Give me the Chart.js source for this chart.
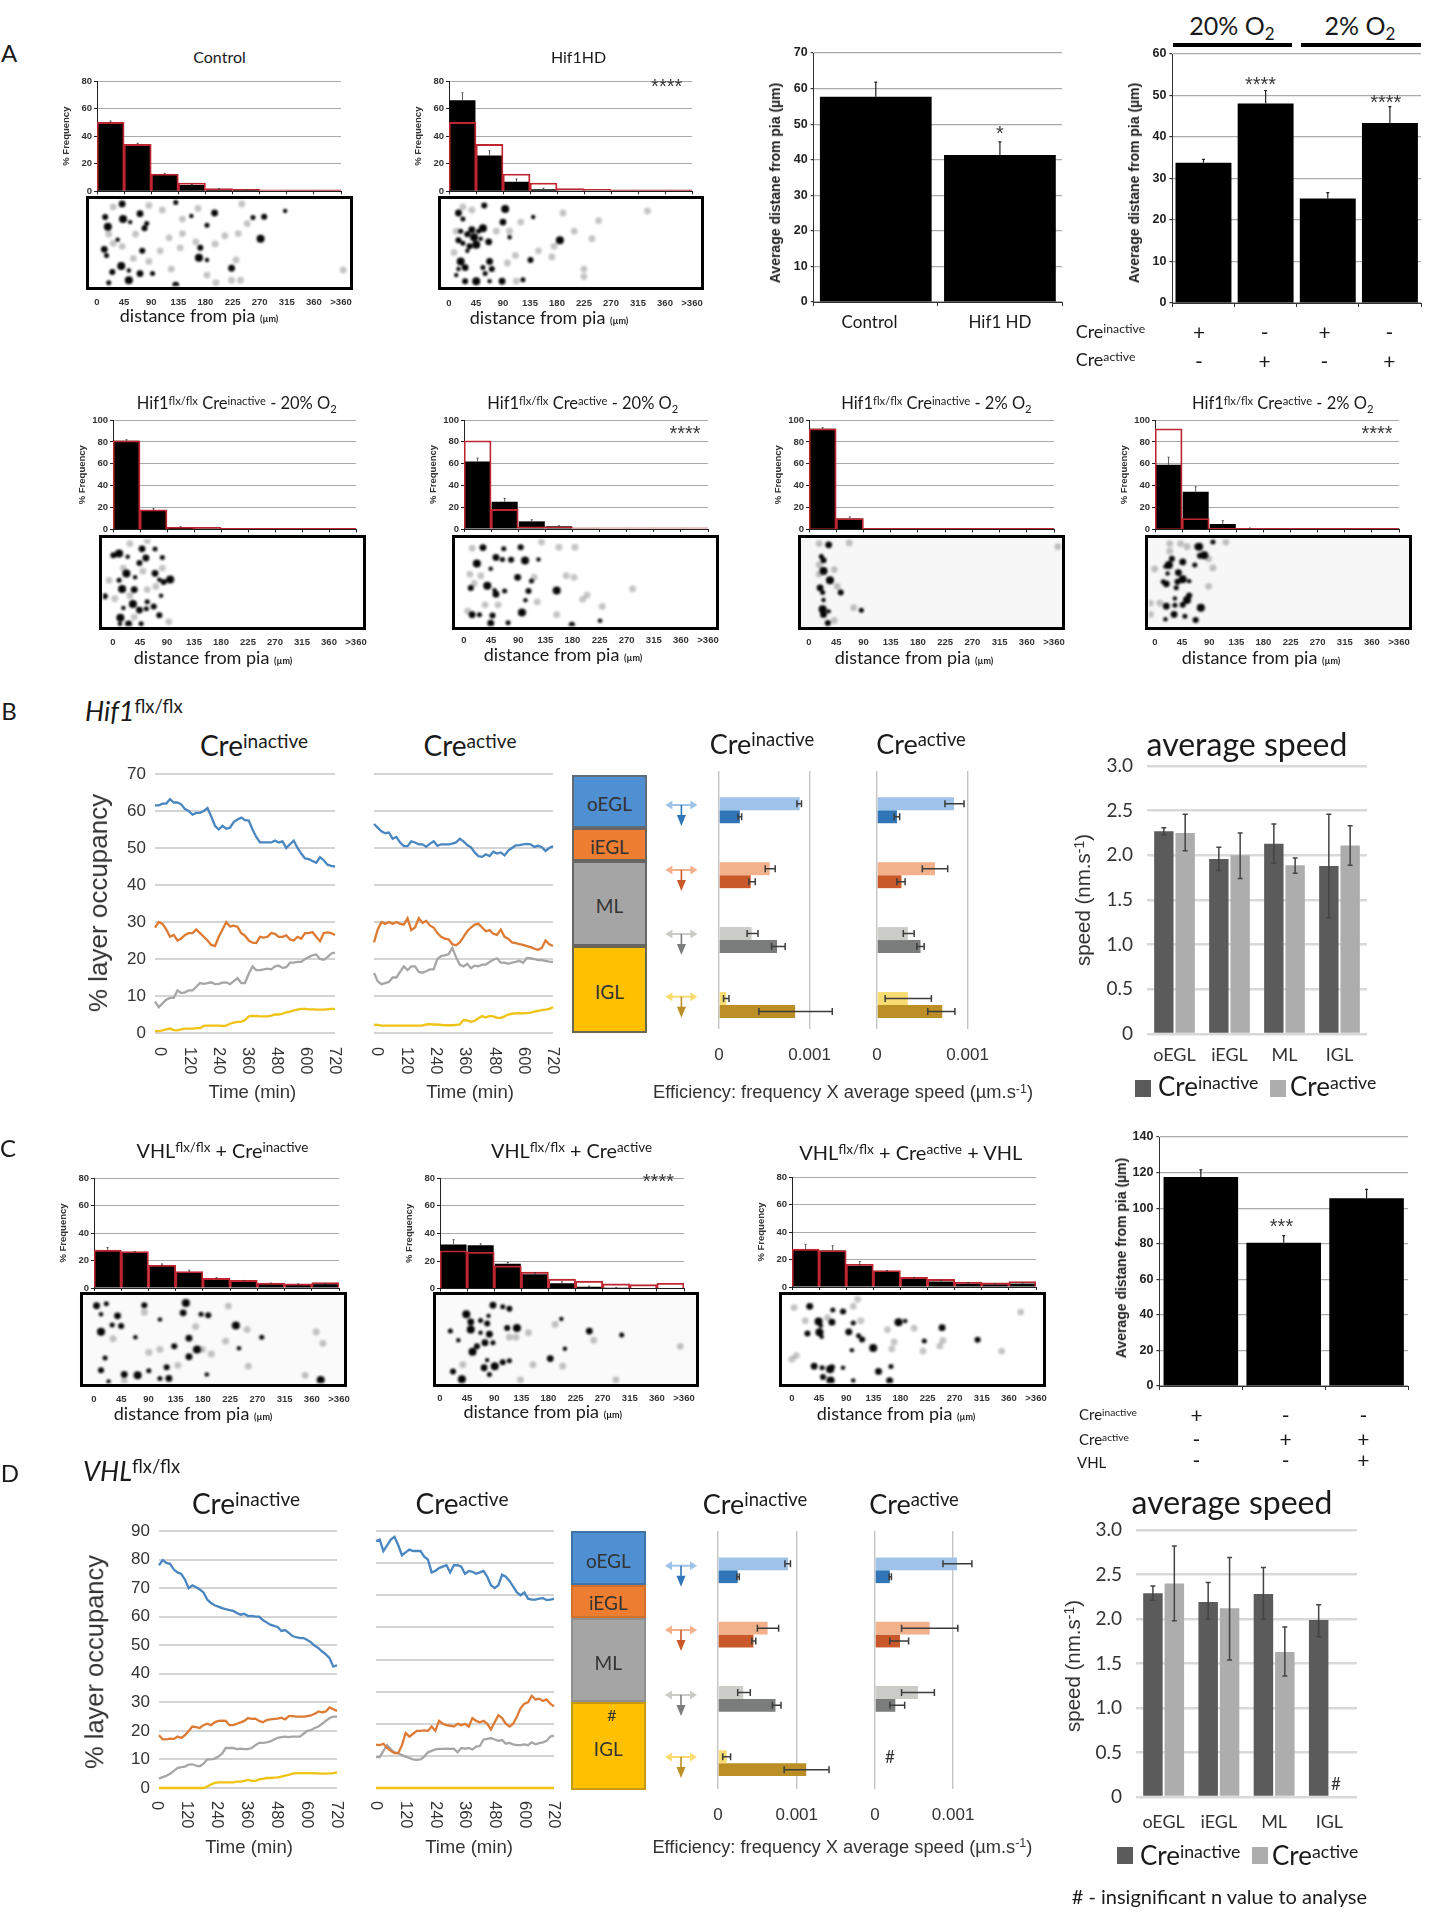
<!DOCTYPE html>
<html>
<head>
<meta charset="utf-8">
<script src="https://cdn.jsdelivr.net/npm/chart.js@4/dist/chart.umd.js"></script>
<style>
  html, body { margin: 0; background: #fff; }
  #page { position: relative; width: 1437px; height: 1920px; overflow: hidden; background: #fff; filter: blur(0.55px); }
  #page canvas { position: absolute; }
  .t { position: absolute; white-space: nowrap; line-height: 1; color: #1a1a1a; font-family: Lato, sans-serif; }
  .t sup { font-size: .68em; vertical-align: baseline; position: relative; top: -.42em; }
  .t sub { font-size: .68em; vertical-align: baseline; position: relative; top: .3em; }
  .box { position: absolute; box-sizing: border-box; }
</style>
</head>
<body>
<div id="page"></div>
<script>
// histogram bins
const distTicks = ['0', '45', '90', '135', '180', '225', '270', '315', '360', '>360'];
const refA = [50, 34, 12.5, 6, 2, 1.5, 1, 1, 1];
const controlHist = [49.5, 34, 12.5, 4.5, 1.5, 1, 0.4, 0.3, 0.3];
const controlHi = [51, 34.8, 13, 5, 1.8, 1.2, null, null, null];
const hif1HdHist = [66, 26, 7, 1.5, 0.3, 0.2, 0.1, 0.1, 0.1];
const hif1HdHi = [71.5, 29.5, 9, 2.3, null, null, null, null, null];
const ref20 = [81, 18, 2, 2, 1, 1, 1, 1, 1];
const in20Hist = [81, 17.5, 2, 0.8, 0.5, 0.5, 0.5, 0.5, 0.5];
const in20Hi = [82, 19, 2.5, null, null, null, null, null, null];
const act20Hist = [62, 25, 7, 2.5, 0.6, 0.5, 0.5, 0.5, 0.5];
const act20Hi = [65, 28, 8.5, 3, null, null, null, null, null];
const ref2 = [92, 10, 1, 1, 1, 1, 1, 1, 1];
const in2Hist = [92, 10, 0.5, 0.5, 0.5, 0.5, 0.5, 0.5, 0.5];
const in2Hi = [93, 11.5, null, null, null, null, null, null, null];
const act2Hist = [59, 34.5, 5, 1, 0.5, 0.5, 0.5, 0.5, 0.5];
const act2Hi = [66, 39, 8, 1.3, null, null, null, null, null];
const refC = [27.5, 26.5, 16.5, 12, 7, 5.5, 3.5, 3, 4];
const vhlInHist = [27.5, 26, 16, 11.5, 7, 5, 3.2, 2.7, 2.8];
const vhlInHi = [29.5, 26.5, 17.5, 13, 7.5, 5.5, 3.6, 3, 3.2];
const vhlActHist = [32, 31.5, 18, 10.5, 4, 1.5, 0.7, 0.3, 0.2];
const vhlActHi = [35.5, 32.5, 19, 11.5, 5, 2, 1, null, null];
const vhlRescueHist = [27, 26.5, 15.5, 11, 6, 4, 2.5, 2, 2.5];
const vhlRescueHi = [31, 30, 18.5, 12, 7, 5, 3.2, 2.5, 3];

// average distance bars
const a3Cats = ['Control', 'Hif1 HD'];
const a3Vals = [57.7, 41.3];
const a3Hi = [61.8, 45];
const a4Cats = ['Cre inactive 20%', 'Cre active 20%', 'Cre inactive 2%', 'Cre active 2%'];
const a4Vals = [33.8, 48.1, 25.2, 43.4];
const a4Hi = [34.6, 51.2, 26.6, 47.3];
const c4Cats = ['Cre inactive', 'Cre active', 'Cre active + VHL'];
const c4Vals = [117.5, 80.5, 105.5];
const c4Hi = [121.5, 84.5, 110.5];

// layer occupancy, one reading every 15 min
const times = [0, 15, 30, 45, 60, 75, 90, 105, 120, 135, 150, 165, 180, 195, 210, 225, 240, 255, 270, 285, 300, 315, 330, 345, 360, 375, 390, 405, 420, 435, 450, 465, 480, 495, 510, 525, 540, 555, 570, 585, 600, 615, 630, 645, 660, 675, 690, 705, 720];
const bInBlue = [61.5, 61.5, 62, 62, 63.2, 62.3, 62.3, 61.8, 60.5, 60,
  59, 59.5, 59.5, 60, 60.8, 58.5, 56, 55, 56, 55.2,
  55.5, 57, 57.7, 58.2, 57.5, 57.4, 55, 53, 51.5, 51.5,
  51.5, 51.5, 52, 51.5, 51.8, 50, 51, 52, 50, 48.5,
  47.2, 47, 46.5, 46, 47.5, 46.7, 45.5, 45.2, 45];
const bInOrange = [28.5, 30, 29.5, 28, 26, 26.5, 25, 25.5, 26.5, 27,
  27, 28, 27, 26, 25, 23.8, 23.5, 26, 28, 30,
  28.8, 29, 28.7, 27, 26.3, 25, 24.4, 24.3, 26, 25.8,
  26, 27, 26.8, 26, 26, 26.4, 25.3, 25, 26, 25.5,
  27, 27, 27.3, 26, 24.8, 27, 27.2, 27, 26.5];
const bInGray = [8.5, 7, 8, 9, 9.5, 9.5, 11.5, 10.8, 11, 11.5,
  11.5, 12.5, 13.5, 13.3, 13.5, 13.7, 13.2, 13.3, 13.6, 13.7,
  13.2, 14, 14.8, 13.5, 13.5, 16, 18, 17, 17, 17.2,
  17.4, 17.2, 18, 18.2, 17.6, 17.8, 19, 19, 19.2, 19.2,
  20, 20.5, 21, 21.2, 20, 19.8, 20.5, 21.5, 21.7];
const bInYellow = [0.5, 0.5, 0.7, 1, 1.2, 0.8, 0.7, 1, 1.2, 1.2,
  1.2, 1.3, 1.3, 1.9, 2, 2, 2, 2, 1.9, 2,
  2.5, 2.8, 3, 3, 3.5, 4.5, 4.6, 4.6, 4.5, 4.5,
  4.5, 4.7, 5, 5, 5.2, 5.6, 5.8, 6.1, 6.3, 6.5,
  6.5, 6.4, 6.4, 6.3, 6.3, 6.3, 6.4, 6.5, 6.5];
const bActBlue = [56.5, 55.5, 54.5, 54, 54.2, 52.5, 53, 51.5, 50.5, 50.5,
  51.8, 51.5, 51, 51, 50.3, 51.2, 51.8, 50.6, 51, 51,
  51, 51.2, 51.5, 52.5, 51.8, 50.8, 50.2, 48.8, 47.8, 47.6,
  48.3, 47.8, 49, 48.5, 48.8, 48, 49.3, 50, 50.7, 50.8,
  51, 51.1, 51, 50.3, 50.6, 50.2, 49.2, 50, 50.5];
const bActOrange = [24.5, 28, 30, 29.5, 30, 29.5, 30, 29.5, 29.3, 31,
  27.8, 28.5, 31, 29.8, 30.3, 29, 28.5, 27, 26, 25.5,
  25.3, 24, 23.7, 24.5, 26, 27.5, 28.5, 29.3, 29.5, 28.5,
  27.5, 27.8, 26.8, 26.5, 28, 26, 25.5, 24.5, 24.3, 24,
  23.8, 23.5, 23.2, 22.8, 22.5, 23, 25, 24, 23.5];
const bActGray = [16.2, 14, 13.2, 13.5, 13.8, 15, 15, 16.5, 18, 17,
  18, 18, 16.5, 16.3, 16.7, 17.2, 17.2, 20, 20.8, 21,
  21.3, 23, 20.5, 18.5, 18, 18.7, 17.5, 18.2, 18, 18.5,
  18.5, 19.2, 19.8, 20.2, 19, 19, 18.7, 19, 19.2, 19.5,
  19, 20.3, 20.2, 20, 19.7, 19.7, 19.5, 19.3, 19.2];
const bActYellow = [2.2, 2.2, 2, 2, 2, 2, 2, 2, 2, 2,
  2, 2, 2, 2, 2.3, 2.4, 2.3, 2.3, 2.2, 2.1,
  2.1, 2.1, 2.2, 2.3, 3.5, 3.4, 3, 3.3, 4, 4.6,
  4.2, 4.6, 4.5, 4.1, 4.1, 4.5, 5, 5.2, 5.3, 5.4,
  5.3, 5.4, 5.5, 5.8, 6, 6.2, 6.3, 6.5, 7];
const dInBlue = [78, 79.8, 78.8, 78.5, 76.5, 75.5, 75, 73, 70, 71,
  70.3, 69.5, 68.5, 66, 64.8, 64, 63.5, 63, 62.6, 62.3,
  62, 61.3, 60.7, 61, 60.2, 60.3, 60, 60, 58.8, 58,
  57.2, 56.8, 56.4, 55, 55.3, 54.3, 53.2, 52.8, 52.5, 52.5,
  51.8, 51, 49.8, 49, 47.8, 46.8, 45.5, 42.5, 43];
const dInOrange = [18.5, 17, 17, 17.3, 17.2, 18, 17.5, 18.5, 20, 21.5,
  21.3, 21, 22, 22.5, 22, 23, 23.5, 23.6, 23.5, 22,
  22, 22.5, 23, 23.5, 24.5, 24.2, 24.3, 23.5, 23, 23.8,
  24, 24.2, 24.3, 24.6, 24, 25.2, 25.2, 25, 25, 25,
  25.2, 25.4, 26, 26.8, 26.5, 26.8, 28.2, 27.6, 27];
const dInGray = [3.3, 3.8, 4.3, 5, 6, 7, 7.3, 7.5, 8.2, 8.3,
  7.8, 7.6, 8.5, 10, 10, 10.3, 11, 12, 14, 14,
  14, 13.6, 13.8, 13.6, 13.6, 14, 15, 15.8, 15.8, 16,
  16.3, 17, 17.6, 17.8, 18, 17.8, 18, 18, 18, 19,
  20, 20.3, 21, 21.5, 22.5, 23.5, 24.5, 25, 25];
const dInYellow = [0, 0, 0, 0, 0, 0, 0, 0, 0, 0,
  0, 0, 0, 0.5, 1.2, 1.8, 2, 2, 2, 2,
  2, 2.2, 2.2, 2.5, 2.8, 2.5, 2.5, 3, 3.2, 3.5,
  3.5, 3.6, 3.7, 4, 4.3, 4.6, 5, 5.2, 5.2, 5.2,
  5.2, 5.2, 5.1, 5.1, 5, 5, 5.1, 5.2, 5.5];
const dActBlue = [86.5, 87, 83, 85, 87, 88, 85, 81.5, 82.5, 83.5,
  83, 83, 83, 81, 80, 75.5, 76, 77, 77.5, 78,
  75.5, 78, 78, 77.5, 75, 76, 75.7, 75, 75.5, 76,
  74, 71, 70, 71, 74.7, 74, 72.5, 70.5, 68.5, 67.5,
  68.5, 66.3, 66, 66, 66.3, 66.5, 65.8, 66, 66.2];
const dActOrange = [15.2, 15, 15.5, 14, 13, 12.2, 12.2, 15, 19.3, 18,
  19, 20, 20, 20.2, 20, 21.5, 20, 23.5, 22.5, 22,
  21.8, 21.5, 22.5, 22, 22.5, 21.5, 24.5, 23.5, 23, 23.5,
  22.5, 20.5, 23, 25.5, 24.5, 22.5, 21.5, 22.5, 25, 28,
  29.5, 30, 32.3, 31, 31.3, 30.5, 31, 29.5, 28.6];
const dActGray = [10.8, 10.8, 13, 15, 13.5, 12.5, 12.2, 11.5, 11, 10.5,
  10, 9.9, 10, 11, 12.5, 13, 13.5, 13.7, 13.7, 13.8,
  13.7, 13.8, 12.5, 14, 13.8, 14, 13.5, 14.5, 14.7, 17,
  17.2, 17.5, 17, 16.5, 16.8, 15.5, 15.8, 15.3, 15, 15,
  15.3, 15, 16, 15.3, 15.7, 16, 16.5, 18, 18.3];
const dActYellow = [0, 0, 0, 0, 0, 0, 0, 0, 0, 0,
  0, 0, 0, 0, 0, 0, 0, 0, 0, 0,
  0, 0, 0, 0, 0, 0, 0, 0, 0, 0,
  0, 0, 0, 0, 0, 0, 0, 0, 0, 0,
  0, 0, 0, 0, 0, 0, 0, 0, 0];

// efficiency: lateral (light) and radial (dark), order oEGL iEGL ML IGL
const effBInLight = [0.00089, 0.00056, 0.00036, 0.00008];
const effBInLightLo = [0.00086, 0.00051, 0.00031, 0.00005];
const effBInLightHi = [0.00091, 0.00062, 0.00043, 0.00011];
const effBInDark = [0.00023, 0.00035, 0.00064, 0.00084];
const effBInDarkLo = [0.00021, 0.00033, 0.00058, 0.00044];
const effBInDarkHi = [0.00025, 0.0004, 0.00073, 0.00125];
const effBActLight = [0.00085, 0.00064, 0.00034, 0.00034];
const effBActLightLo = [0.00075, 0.0005, 0.00029, 0.00009];
const effBActLightHi = [0.00096, 0.00078, 0.00041, 0.0006];
const effBActDark = [0.00022, 0.00027, 0.00048, 0.00072];
const effBActDarkLo = [0.00019, 0.00022, 0.00044, 0.00056];
const effBActDarkHi = [0.00025, 0.00031, 0.00052, 0.00086];
const effDInLight = [0.00089, 0.00063, 0.00032, 0.00011];
const effDInLightLo = [0.00085, 0.0005, 0.00025, 0.00006];
const effDInLightHi = [0.00092, 0.00077, 0.00041, 0.00016];
const effDInDark = [0.00025, 0.00045, 0.00073, 0.00112];
const effDInDarkLo = [0.00024, 0.00043, 0.00069, 0.00084];
const effDInDarkHi = [0.00027, 0.00048, 0.0008, 0.00141];
const effDActLight = [0.00105, 0.0007, 0.00055, null];
const effDActLightLo = [0.00087, 0.00034, 0.00034, null];
const effDActLightHi = [0.00124, 0.00106, 0.00076, null];
const effDActDark = [0.00019, 0.00032, 0.00026, null];
const effDActDarkLo = [0.00018, 0.00019, 0.00019, null];
const effDActDarkHi = [0.00021, 0.00043, 0.00038, null];

// average speed
const layers = ['oEGL', 'iEGL', 'ML', 'IGL'];
const speedBIn = [2.27, 1.96, 2.13, 1.88];
const speedBInLo = [2.23, 1.83, 1.91, 1.3];
const speedBInHi = [2.31, 2.09, 2.35, 2.46];
const speedBAct = [2.25, 2.0, 1.89, 2.11];
const speedBActLo = [2.05, 1.74, 1.8, 1.89];
const speedBActHi = [2.46, 2.25, 1.97, 2.33];
const speedDIn = [2.29, 2.19, 2.28, 1.99];
const speedDInLo = [2.21, 2.0, 2.0, 1.8];
const speedDInHi = [2.37, 2.41, 2.58, 2.16];
const speedDAct = [2.4, 2.12, 1.63, null];
const speedDActLo = [1.98, 1.54, 1.36, null];
const speedDActHi = [2.82, 2.69, 1.91, null];

// cell positions in the strips, dark and faint nuclei
const a1Dark = [[260,510],[380,505],[222,553],[262,560],[278,570],[300,542],[315,575],[310,590],[228,585],[250,628],[220,660],[225,680],[305,665],[258,715],[275,730],[300,740],[328,740],[238,735],[275,762],[415,550],[467,540],[450,580],[435,655],[432,688],[450,695],[505,722],[553,555],[578,552],[570,625],[625,533],[380,778],[230,770]];
const a1Faint = [[240,520],[320,515],[350,530],[430,525],[528,510],[395,560],[540,575],[395,608],[520,608],[490,615],[365,622],[345,665],[390,655],[468,642],[425,635],[370,725],[450,745],[525,762],[505,762],[515,695],[755,728],[240,640],[260,650],[285,690],[320,700],[290,610],[470,770],[230,610]];
const a2Dark = [[990,540],[1000,560],[1048,515],[1095,527],[1158,553],[1090,570],[995,600],[1010,610],[1025,620],[1040,625],[1058,635],[1000,640],[1015,650],[1030,645],[1010,665],[1060,700],[1045,720],[1065,725],[995,700],[990,725],[1005,720],[1050,740],[1005,765],[1030,765],[1060,765],[1088,765],[1135,760],[1152,695],[1218,630],[985,745],[1020,595],[1035,600],[990,630],[1045,590],[1105,620]];
const a2Faint = [[1000,520],[1020,530],[1130,570],[1105,600],[1205,650],[1290,625],[1170,665],[1100,705],[1272,725],[1272,750],[1120,765],[1415,533],[1305,565],[1225,540],[1118,680],[985,600],[980,670],[1075,600],[1200,685],[1250,600]];
const h1Dark = [[178,497],[208,498],[112,518],[125,512],[145,523],[187,527],[225,525],[172,543],[142,578],[162,590],[208,577],[125,600],[228,605],[243,597],[218,598],[160,630],[190,670],[205,685],[157,677],[135,690],[172,697],[188,693],[218,714],[128,722],[127,742],[147,742],[176,742],[92,652],[132,628],[222,650]];
const h1Faint = [[150,480],[190,470],[225,560],[102,600],[180,570],[135,560],[190,630],[115,660],[240,735],[160,720],[210,620],[150,650]];
const h2Dark = [[940,493],[988,497],[1027,492],[926,545],[958,562],[970,525],[985,532],[1005,533],[1037,535],[1068,532],[1020,590],[1052,602],[912,625],[950,618],[967,632],[970,645],[990,635],[1045,635],[1110,633],[1038,665],[915,712],[932,712],[962,715],[1030,705],[1210,732],[958,740],[998,738],[1145,745]];
const h2Faint = [[915,495],[1075,475],[1115,492],[1152,492],[910,580],[920,610],[935,585],[1058,590],[1132,585],[1150,590],[1180,648],[1170,662],[1215,685],[1110,712],[905,700],[945,680],[975,680],[1285,628],[1065,670]];
const h3Dark = [[192,484],[175,522],[180,535],[180,570],[195,602],[172,625],[178,640],[220,640],[178,695],[192,702],[180,712],[268,698],[190,740],[195,600],[180,665]];
const h3Faint = [[170,480],[240,478],[205,565],[170,580],[250,690],[205,732],[212,620],[170,550],[725,490]];
const h4Dark = [[1025,490],[1060,475],[965,530],[958,550],[950,555],[990,540],[1018,550],[1030,520],[1040,518],[955,578],[980,575],[945,605],[978,605],[990,597],[1005,603],[952,612],[975,625],[1005,650],[1000,665],[972,660],[952,685],[972,682],[990,680],[1032,690],[950,728],[970,712],[995,718],[1020,730],[1028,490]];
const h4Faint = [[960,480],[985,480],[1090,475],[925,563],[1050,530],[1060,560],[915,675],[915,712],[937,675],[960,505],[1000,490],[1050,620]];
const c1Dark = [[203,547],[225,540],[310,545],[403,538],[213,575],[250,580],[238,610],[258,613],[213,632],[345,592],[397,570],[437,575],[453,578],[515,612],[290,650],[410,653],[573,650],[377,680],[428,690],[522,686],[410,714],[222,718],[213,758],[295,775],[450,772],[265,772],[320,760],[360,748],[705,790],[230,795],[365,785],[345,785]];
const c1Faint = [[498,548],[310,568],[540,625],[492,663],[345,690],[460,705],[440,690],[695,633],[543,745],[385,742],[710,670],[670,775],[265,795],[240,655],[320,700],[425,615]];
const c2Dark = [[1068,545],[1090,550],[1105,557],[1008,575],[1058,580],[1018,600],[1040,595],[1055,605],[1018,625],[1040,635],[1060,640],[972,630],[1100,620],[1122,620],[990,660],[1050,668],[1068,668],[1032,680],[1022,698],[1230,688],[1197,720],[1105,727],[1090,732],[1072,745],[1055,725],[1048,750],[1060,772],[978,762],[998,788],[1222,590],[1285,630],[1358,643]];
const c2Faint = [[1208,608],[1148,635],[1105,650],[1120,650],[1158,740],[1225,745],[1000,740],[1345,790],[1130,790],[1295,660],[1490,680]];
const c3Dark = [[190,548],[242,560],[265,565],[210,598],[215,612],[240,600],[288,603],[185,637],[212,633],[217,648],[278,632],[300,645],[308,657],[390,600],[405,596],[488,618],[448,662],[568,658],[333,685],[285,692],[200,745],[218,750],[240,748],[236,755],[265,750],[345,762],[373,746],[220,780],[237,792],[288,792],[370,792]];
const c3Faint = [[155,552],[298,525],[288,548],[180,595],[230,585],[305,595],[425,620],[365,625],[380,665],[490,660],[483,678],[375,688],[622,695],[160,710],[150,722],[665,567],[445,695]];

const page = document.getElementById('page');
const SANS = '"Liberation Sans", Arial, sans-serif';
const RED = '#bf2530';

// error whiskers, read from dataset.errLo / dataset.errHi
const whiskers = {
  id: 'whiskers',
  afterDatasetsDraw(chart) {
    const ctx = chart.ctx;
    const horiz = chart.options.indexAxis === 'y';
    chart.data.datasets.forEach((ds, di) => {
      if (!ds.errHi) return;
      const meta = chart.getDatasetMeta(di);
      const vScale = horiz ? chart.scales.x : chart.scales.y;
      const cap = ds.errCap || 2;
      ctx.save();
      ctx.strokeStyle = ds.errColor || '#000';
      ctx.lineWidth = ds.errWidth || 1;
      meta.data.forEach((el, i) => {
        const hi = ds.errHi[i];
        if (hi == null) return;
        const lo = ds.errLo ? ds.errLo[i] : meta.controller.getParsed(i)[vScale.axis];
        const a = vScale.getPixelForValue(lo), b = vScale.getPixelForValue(hi);
        const c = horiz ? el.y : el.x;
        ctx.beginPath();
        if (horiz) {
          ctx.moveTo(a, c); ctx.lineTo(b, c);
          ctx.moveTo(b, c - cap); ctx.lineTo(b, c + cap);
          if (ds.errLo) { ctx.moveTo(a, c - cap); ctx.lineTo(a, c + cap); }
        } else {
          ctx.moveTo(c, a); ctx.lineTo(c, b);
          ctx.moveTo(c - cap, b); ctx.lineTo(c + cap, b);
          if (ds.errLo) { ctx.moveTo(c - cap, a); ctx.lineTo(c + cap, a); }
        }
        ctx.stroke();
      });
      ctx.restore();
    });
  }
};

// time labels read top to bottom, Chart.js only anchors them the other way
const sideTicks = {
  id: 'sideTicks',
  afterDraw(chart, args, opts) {
    if (!opts.top) return;
    const s = chart.scales.x, ctx = chart.ctx;
    ctx.save();
    ctx.font = '16.5px ' + SANS;
    ctx.fillStyle = '#333';
    ctx.textBaseline = 'middle';
    s.ticks.forEach(t => {
      ctx.save();
      ctx.translate(s.getPixelForValue(t.value) + opts.shift * (720 - t.value) / 720, s.top + opts.top);
      ctx.rotate(Math.PI / 2);
      ctx.fillText(String(t.value), 0, 0);
      ctx.restore();
    });
    ctx.restore();
  }
};

Chart.register(whiskers, sideTicks);
Chart.defaults.animation = false;
Chart.defaults.responsive = false;
Chart.defaults.plugins.legend.display = false;
Chart.defaults.plugins.tooltip.enabled = false;

function txt(x, y, html, size, opts = {}) {
  const d = document.createElement('div');
  d.className = 't';
  d.innerHTML = html;
  d.style.left = x + 'px';
  d.style.top = y + 'px';
  d.style.fontSize = size + 'px';
  if (opts.font) d.style.fontFamily = opts.font;
  if (opts.color) d.style.color = opts.color;
  if (opts.italic) d.style.fontStyle = 'italic';
  if (opts.weight) d.style.fontWeight = opts.weight;
  const ax = opts.left ? '0' : '-50%';
  d.style.transform = 'translate(' + ax + ',-50%)' + (opts.rot ? ' rotate(' + opts.rot + 'deg)' : '');
  page.appendChild(d);
}

// asterisks sit high in the em box, so nudge them onto the read-off centre
function stars(x, y, s) {
  txt(x, y + 4.5, s, 20, { font: SANS, color: '#3a3a3a' });
}

function makeCanvas(x, y, w, h) {
  const c = document.createElement('canvas');
  c.width = w; c.height = h;
  c.style.left = x + 'px';
  c.style.top = y + 'px';
  c.style.width = w + 'px';
  c.style.height = h + 'px';
  page.appendChild(c);
  return c.getContext('2d');
}

// pins the axis band so that the plot area lands on the wanted pixels
function pin(size, horizontal) {
  return s => {
    if (horizontal) s.height = size; else s.width = size;
    s.paddingLeft = s.paddingRight = s.paddingTop = s.paddingBottom = 0;
  };
}

function hist(p, vals, hi, ref, dark, faint, star) {
  const ml = 36, mr = 24, mt = 8, mb = p.tickY - p.B + 10;
  const w = Math.round(p.R - p.L + ml + mr), h = Math.round(p.B - p.T + mt + mb);
  const max = p.max || 80, step = p.step || 10;
  const datasets = [{
    data: vals.map((v, i) => ({ x: i + 0.5, y: v })),
    backgroundColor: '#000', barPercentage: 0.96, categoryPercentage: 1, grouped: false, order: 2,
    errHi: hi, errColor: '#333', errWidth: 0.8, errCap: 1
  }];
  if (ref) datasets.unshift({
    data: ref.map((v, i) => ({ x: i + 0.5, y: v })),
    backgroundColor: 'rgba(0,0,0,0)', borderColor: RED, borderWidth: 1.2,
    barPercentage: 1, categoryPercentage: 1, grouped: false, order: 1
  });
  new Chart(makeCanvas(p.L - ml, p.T - mt, w, h), {
    type: 'bar',
    data: { datasets },
    options: {
      layout: { padding: { top: mt, right: mr } },
      scales: {
        x: {
          type: 'linear', min: 0, max: 9, offset: false, afterFit: pin(mb, true),
          grid: { drawOnChartArea: false, offset: false, color: '#222', tickLength: 3 },
          border: { color: '#222' },
          ticks: {
            stepSize: 1, autoSkip: false, maxRotation: 0, padding: p.tickY - 5 - p.B - 3,
            font: { family: SANS, size: 9.5, weight: 'bold' }, color: '#333',
            callback: v => distTicks[v]
          }
        },
        y: {
          min: 0, max, afterFit: pin(ml),
          grid: { color: '#aaa', tickColor: '#222', tickLength: 3 },
          border: { color: '#222' },
          title: { display: true, text: '% Frequency', padding: 0, color: '#333', font: { family: SANS, size: 9.5, weight: 'bold' } },
          ticks: {
            stepSize: step, padding: 2, color: '#333', font: { family: SANS, size: 9.5, weight: 'bold' },
            callback: v => (v % 20 === 0 ? v : '')
          }
        }
      }
    }
  });
  // strip under the histogram
  const [x1, x2, y1, y2, sx1, sx2, sy1, sy2] = p.frame;
  const stripCtx = makeCanvas(x1, y1, x2 - x1, y2 - y1);
  stripCtx.canvas.style.filter = 'blur(0.8px)';
  if (p.haze) stripCtx.canvas.style.background = p.haze;
  new Chart(stripCtx, {
    type: 'scatter',
    data: { datasets: [
      { data: faint.map(d => ({ x: d[0], y: d[1] })), backgroundColor: 'rgba(60,60,60,0.3)', pointRadius: 3.4, pointBorderWidth: 0 },
      { data: dark.map(d => ({ x: d[0], y: d[1] })), backgroundColor: '#060606', pointBorderWidth: 0,
        pointRadius: c => [3.4, 2.5, 3, 4, 2.2][c.dataIndex % 5] }
    ] },
    options: {
      layout: { padding: 0 },
      scales: {
        x: { display: false, min: sx1, max: sx2 },
        y: { display: false, min: sy1, max: sy2, reverse: true }
      }
    }
  });
  const f = document.createElement('div');
  f.className = 'box';
  f.style.cssText = 'left:' + x1 + 'px;top:' + y1 + 'px;width:' + (x2 - x1) + 'px;height:' + (y2 - y1) + 'px;border:3.5px solid #000';
  page.appendChild(f);
  if (star) stars(star[0], star[1], '****');
}

function bigBars(p, cats, vals, hi) {
  const ml = p.L - p.titleX + 8, mr = 6, mt = 8, mb = 10;
  new Chart(makeCanvas(p.L - ml, p.T - mt, Math.round(p.R - p.L + ml + mr), Math.round(p.B - p.T + mt + mb)), {
    type: 'bar',
    data: { labels: cats, datasets: [{
      data: vals, backgroundColor: '#000', barPercentage: 0.9, categoryPercentage: 1,
      errHi: hi, errColor: '#222', errWidth: 1.2, errCap: 1.5
    }] },
    options: {
      layout: { padding: { top: mt, right: mr } },
      scales: {
        x: {
          afterFit: pin(mb, true),
          ticks: { display: false },
          grid: { drawOnChartArea: false, color: '#333', tickLength: 4 },
          border: { color: '#333' }
        },
        y: {
          min: 0, max: p.max, afterFit: pin(ml),
          grid: { color: '#aaa', lineWidth: 1.2, tickColor: '#333', tickLength: 3 },
          border: { color: '#333' },
          ticks: { stepSize: p.step, padding: 3, color: '#222', font: { family: SANS, size: 12.5, weight: 'bold' } }
        }
      }
    }
  });
  txt(p.titleX, p.titleY, 'Average distane from pia (µm)', 14, { font: SANS, weight: 'bold', rot: -90, color: '#222' });
}

function occupancy(p, blue, orange, gray, yellow) {
  const ml = p.labels ? 70 : 6, mr = 12, mt = 8, mb = 60;
  const series = [[blue, '#4a86c0'], [orange, '#dd7b35'], [gray, '#a6a6a6'], [yellow, '#eec313']];
  new Chart(makeCanvas(p.L - ml, p.T - mt, Math.round(p.R - p.L + ml + mr), Math.round(p.B - p.T + mt + mb)), {
    type: 'line',
    data: { datasets: series.map(([vals, color]) => ({
      data: vals.map((v, i) => ({ x: times[i], y: v })),
      borderColor: color, borderWidth: 2.3, pointRadius: 0, tension: 0, clip: false
    })) },
    options: {
      layout: { padding: { top: mt, right: mr } },
      plugins: { sideTicks: { top: p.tickTop, shift: p.shift } },
      scales: {
        x: {
          type: 'linear', min: 0, max: 720, afterFit: pin(mb, true),
          grid: { display: false }, border: { display: false },
          ticks: { display: false, stepSize: 120 }
        },
        y: {
          min: 0, max: p.max, afterFit: pin(ml),
          grid: { color: '#d4d4d4', lineWidth: 2, drawTicks: false },
          border: { display: false },
          ticks: { display: !!p.labels, stepSize: p.step, padding: 9, color: '#333', font: { family: SANS, size: 17 } }
        }
      }
    }
  });
}

const lightCols = ['#9fc3e8', '#f2b18a', '#cbcbc7', '#f8dc72'];
const darkCols = ['#2f75b8', '#c9592a', '#7b7d7d', '#bb8e26'];

function efficiency(p, light, lightLo, lightHi, dark, darkLo, darkHi) {
  const ml = 6, mr = 6, mt = 2, mb = 36;
  const span = 0.0016;
  const pxPer = (p.X1 - p.X0) / 0.001;
  const toPts = arr => arr.map((v, i) => ({ x: v, y: i }));
  const errStyle = { errColor: '#3c3c3c', errWidth: 1.5, errCap: 3.5 };
  new Chart(makeCanvas(p.X0 - ml, p.T - mt, Math.round(span * pxPer + ml + mr), Math.round(p.B - p.T + mt + mb)), {
    type: 'bar',
    data: { datasets: [
      Object.assign({ data: toPts(light), backgroundColor: lightCols, barPercentage: 1, categoryPercentage: 0.4, errLo: lightLo, errHi: lightHi }, errStyle),
      Object.assign({ data: toPts(dark), backgroundColor: darkCols, barPercentage: 1, categoryPercentage: 0.4, errLo: darkLo, errHi: darkHi }, errStyle)
    ] },
    options: {
      indexAxis: 'y',
      layout: { padding: { top: mt, right: mr } },
      scales: {
        x: {
          type: 'linear', min: 0, max: span, afterFit: pin(mb, true),
          grid: { color: '#c4c4c4', lineWidth: 1.4, drawTicks: false },
          border: { display: false },
          ticks: {
            stepSize: 0.001, includeBounds: false, maxRotation: 0, padding: 16, color: '#333',
            font: { family: SANS, size: 17 }, callback: v => (v === 0 ? '0' : '0.001')
          }
        },
        y: {
          type: 'linear', reverse: true, offset: false, afterFit: pin(ml),
          min: -(p.C0 - p.T) / p.gap, max: (p.B - p.C0) / p.gap,
          grid: { display: false, offset: false }, border: { display: false },
          ticks: { display: false, stepSize: 1, includeBounds: false }
        }
      }
    }
  });
}

function speed(p, inVals, inLo, inHi, actVals, actLo, actHi) {
  const ml = 50, mr = 6, mt = 8, mb = 46;
  const errStyle = { errColor: '#444', errWidth: 1.5, errCap: 2.5 };
  new Chart(makeCanvas(p.L - ml, p.T - mt, Math.round(p.R - p.L + ml + mr), Math.round(p.B - p.T + mt + mb)), {
    type: 'bar',
    data: { labels: layers, datasets: [
      Object.assign({ data: inVals, backgroundColor: '#5b5b5b', barPercentage: 0.91, categoryPercentage: 0.775, errLo: inLo, errHi: inHi }, errStyle),
      Object.assign({ data: actVals, backgroundColor: '#adadad', barPercentage: 0.91, categoryPercentage: 0.775, errLo: actLo, errHi: actHi }, errStyle)
    ] },
    options: {
      layout: { padding: { top: mt, right: mr } },
      scales: {
        x: {
          afterFit: pin(mb, true),
          grid: { display: false }, border: { display: false },
          ticks: { padding: p.catPad, color: '#333', font: { family: 'Lato', size: 18 } }
        },
        y: {
          min: 0, max: 3, afterFit: pin(ml),
          grid: { color: '#d9d9d9', lineWidth: 2.4, drawTicks: false },
          border: { display: false },
          ticks: { stepSize: 0.5, padding: 14, color: '#333', font: { family: 'Lato', size: 19 }, callback: v => (v === 0 ? '0' : v.toFixed(1)) }
        }
      }
    }
  });
}

// layer column with the arrows next to it
function layerColumn(x1, x2, ys, labelYs, borders) {
  const fills = ['#4e90d2', '#ed7d31', '#a5a5a5', '#ffc000'];
  fills.forEach((c, i) => {
    const b = document.createElement('div');
    b.className = 'box';
    b.style.cssText = 'left:' + x1 + 'px;top:' + ys[i] + 'px;width:' + (x2 - x1) + 'px;height:' + (ys[i + 1] - ys[i]) + 'px;background:' + c + ';border:2.5px solid ' + borders[i];
    page.appendChild(b);
    txt((x1 + x2) / 2, labelYs[i], layers[i], 19, { color: '#333' });
  });
}

function arrows(x, ys) {
  const ns = 'http://www.w3.org/2000/svg';
  const svg = document.createElementNS(ns, 'svg');
  svg.setAttribute('width', 1437);
  svg.setAttribute('height', 1920);
  svg.style.cssText = 'position:absolute;left:0;top:0';
  const add = (tag, attrs) => {
    const el = document.createElementNS(ns, tag);
    Object.keys(attrs).forEach(k => el.setAttribute(k, attrs[k]));
    svg.appendChild(el);
  };
  ys.forEach((y, i) => {
    const l = lightCols[i], d = darkCols[i];
    add('line', { x1: x - 12, y1: y, x2: x + 12, y2: y, stroke: l, 'stroke-width': 2 });
    add('polygon', { points: (x - 16) + ',' + y + ' ' + (x - 9) + ',' + (y - 4.5) + ' ' + (x - 9) + ',' + (y + 4.5), fill: l });
    add('polygon', { points: (x + 16) + ',' + y + ' ' + (x + 9) + ',' + (y - 4.5) + ' ' + (x + 9) + ',' + (y + 4.5), fill: l });
    add('line', { x1: x, y1: y, x2: x, y2: y + 14, stroke: d, 'stroke-width': 1.6 });
    add('polygon', { points: x + ',' + (y + 21) + ' ' + (x - 4.5) + ',' + (y + 10) + ' ' + (x + 4.5) + ',' + (y + 10), fill: d });
  });
  page.appendChild(svg);
}

const CRE_IN = 'Cre<sup>inactive</sup>';
const CRE_ACT = 'Cre<sup>active</sup>';
const PIA = 'distance from pia <span style="font-size:.5em;font-weight:700">(µm)</span>';

// Panel A
txt(9, 53, 'A', 24, { font: 'Lato' });
hist({ L: 97, R: 341, T: 80.7, B: 191.3, tickY: 302, frame: [86, 353, 196, 290, 188, 768, 497, 781] }, controlHist, controlHi, refA, a1Dark, a1Faint);
hist({ L: 449, R: 692.4, T: 80.7, B: 191.3, tickY: 303, frame: [437.5, 704, 196, 290, 953, 1533, 497, 781] }, hif1HdHist, hif1HdHi, refA, a2Dark, a2Faint, [666.7, 81.7]);
txt(219.5, 57.3, 'Control', 16);
txt(578.5, 57.3, 'Hif1HD', 16);
txt(199, 315, PIA, 18);
txt(549, 317, PIA, 18);

bigBars({ L: 813.7, R: 1062, T: 53, B: 302, titleX: 775, titleY: 182.5, max: 70, step: 10 }, a3Cats, a3Vals, a3Hi);
txt(869.5, 320.7, 'Control', 17);
txt(1000, 320.7, 'Hif1 HD', 17);
stars(999.8, 128, '*');

bigBars({ L: 1172.2, R: 1420.5, T: 54, B: 302.7, titleX: 1133.8, titleY: 182.5, max: 60, step: 10 }, a4Cats, a4Vals, a4Hi);
txt(1232, 25, '20% O<sub>2</sub>', 25);
txt(1360, 25, '2% O<sub>2</sub>', 25);
[[1172.7, 1292], [1301, 1420.5]].forEach(([a, b]) => {
  const bar = document.createElement('div');
  bar.className = 'box';
  bar.style.cssText = 'left:' + a + 'px;top:42.5px;width:' + (b - a) + 'px;height:4px;background:#000';
  page.appendChild(bar);
});
stars(1260.5, 79.3, '****');
stars(1385.8, 97.3, '****');
txt(1075.7, 331, CRE_IN, 18, { left: true });
txt(1075.7, 359, CRE_ACT, 18, { left: true });
[['+', 1199, 331], ['-', 1264.6, 331], ['+', 1324.5, 331], ['-', 1389.4, 331],
 ['-', 1199, 360], ['+', 1264.6, 360], ['-', 1324.5, 360], ['+', 1389.4, 360]].forEach(([s, x, y]) => txt(x, y, s, 21));

// second row of A, y to 100
const row2 = { T: 420.3, B: 529.7, max: 100, step: 20 };
const HAZE = '#f7f7f7';
hist(Object.assign({ L: 112.7, R: 356, tickY: 642.3, frame: [99.3, 366, 535, 630, 88, 686, 465, 749] }, row2), in20Hist, in20Hi, ref20, h1Dark, h1Faint);
hist(Object.assign({ L: 463.6, R: 708, tickY: 640.7, frame: [452, 718.5, 535, 630, 878, 1475, 465, 749] }, row2), act20Hist, act20Hi, ref20, h2Dark, h2Faint, [685, 428.3]);
hist(Object.assign({ L: 809.3, R: 1053.8, tickY: 642.3, haze: HAZE, frame: [797.8, 1065, 535, 630, 130, 732, 465, 750] }, row2), in2Hist, in2Hi, ref2, h3Dark, h3Faint);
hist(Object.assign({ L: 1154.7, R: 1398.7, tickY: 642.3, haze: HAZE, frame: [1145.3, 1412, 535, 630, 912, 1512, 465, 750] }, row2), act2Hist, act2Hi, ref2, h4Dark, h4Faint, [1377, 428.3]);
txt(236.8, 403.3, 'Hif1<sup>flx/flx</sup> ' + CRE_IN + ' - 20% O<sub>2</sub>', 16.5);
txt(582.8, 403.3, 'Hif1<sup>flx/flx</sup> ' + CRE_ACT + ' - 20% O<sub>2</sub>', 16.5);
txt(936.4, 403.3, 'Hif1<sup>flx/flx</sup> ' + CRE_IN + ' - 2% O<sub>2</sub>', 16.5);
txt(1282.7, 403.3, 'Hif1<sup>flx/flx</sup> ' + CRE_ACT + ' - 2% O<sub>2</sub>', 16.5);
txt(213, 656.7, PIA, 18);
txt(563, 654.3, PIA, 18);
txt(914, 656.7, PIA, 18);
txt(1261, 656.7, PIA, 18);

// Panel B
txt(9, 710.7, 'B', 24);
txt(85, 710, 'Hif1<sup style="font-style:normal">flx/flx</sup>', 27, { left: true, italic: true });
txt(254, 745, CRE_IN, 28);
txt(470, 745, CRE_ACT, 28);
occupancy({ L: 155, R: 335.3, T: 773.7, B: 1032.3, max: 70, step: 10, labels: true, tickTop: 14, shift: 5 }, bInBlue, bInOrange, bInGray, bInYellow);
occupancy({ L: 373.7, R: 552.8, T: 773.7, B: 1032.3, max: 70, step: 10, tickTop: 14, shift: 3 }, bActBlue, bActOrange, bActGray, bActYellow);
txt(97.7, 903, '% layer occupancy', 26, { font: SANS, rot: -90, color: '#333' });
txt(252.3, 1092, 'Time (min)', 18.5, { font: SANS, color: '#333' });
txt(470, 1092, 'Time (min)', 18.5, { font: SANS, color: '#333' });
layerColumn(572.3, 646.7, [775, 828.3, 860.7, 946, 1032.7], [803, 846, 905, 991], ['#5f6b76', '#6a6460', '#666', '#6b6650']);
arrows(681.4, [805, 870, 934, 996.7]);
efficiency({ X0: 718.8, X1: 809.4, T: 770.7, B: 1029, C0: 810, gap: 65 }, effBInLight, effBInLightLo, effBInLightHi, effBInDark, effBInDarkLo, effBInDarkHi);
efficiency({ X0: 877, X1: 967.7, T: 770.7, B: 1029, C0: 810, gap: 65 }, effBActLight, effBActLightLo, effBActLightHi, effBActDark, effBActDarkLo, effBActDarkHi);
txt(762, 743, CRE_IN, 27);
txt(921, 743, CRE_ACT, 27);
txt(843, 1092, 'Efficiency: frequency X average speed (µm.s<sup>-1</sup>)', 18.3, { font: SANS, color: '#333' });
speed({ L: 1147, R: 1367, T: 766, B: 1034, catPad: 2 }, speedBIn, speedBInLo, speedBInHi, speedBAct, speedBActLo, speedBActHi);
txt(1247, 744, 'average speed', 32);
txt(1083, 900, 'speed (nm.s<sup>-1</sup>)', 20.5, { font: SANS, rot: -90, color: '#333' });
[[1135, 1158, '#5b5b5b', CRE_IN], [1270, 1290, '#adadad', CRE_ACT]].forEach(([sq, tx, c, label]) => {
  const b = document.createElement('div');
  b.className = 'box';
  b.style.cssText = 'left:' + sq + 'px;top:1080px;width:16px;height:17px;background:' + c;
  page.appendChild(b);
  txt(tx, 1086, label, 26, { left: true });
});

// Panel C
txt(8, 1148, 'C', 24);
hist({ L: 93.7, R: 338.4, T: 1177.7, B: 1287.7, tickY: 1398.7, haze: '#fafafa', frame: [80.3, 346.7, 1291.7, 1386.7, 175, 755, 515, 800] }, vhlInHist, vhlInHi, refC, c1Dark, c1Faint);
hist({ L: 440.3, R: 684, T: 1177.7, B: 1288.5, tickY: 1397.7, haze: '#fafafa', frame: [432.5, 699, 1291.7, 1386.7, 942, 1523, 515, 800] }, vhlActHist, vhlActHi, refC, c2Dark, c2Faint, [658.4, 1176.7]);
hist({ L: 792, R: 1036.4, T: 1177.3, B: 1287.7, tickY: 1398.7, frame: [779.4, 1046, 1291.5, 1386.7, 130, 713, 514, 800] }, vhlRescueHist, vhlRescueHi, refC, c3Dark, c3Faint);
txt(222.5, 1150.7, 'VHL<sup>flx/flx</sup> + ' + CRE_IN, 19.8);
txt(571.6, 1150.7, 'VHL<sup>flx/flx</sup> + ' + CRE_ACT, 19.8);
txt(910.7, 1151.7, 'VHL<sup>flx/flx</sup> + ' + CRE_ACT + ' + VHL', 20);
txt(193, 1413.3, PIA, 18);
txt(542.7, 1411, PIA, 18);
txt(896, 1413, PIA, 18);
bigBars({ L: 1159.4, R: 1408, T: 1136.7, B: 1385.3, titleX: 1121, titleY: 1258.3, max: 140, step: 20 }, c4Cats, c4Vals, c4Hi);
stars(1281.5, 1221, '***');
txt(1079, 1414, CRE_IN, 15, { left: true });
txt(1079, 1439, CRE_ACT, 15, { left: true });
txt(1077, 1462, 'VHL', 15, { left: true });
[['+', 1196.5, 1414], ['-', 1285.6, 1414], ['-', 1363.3, 1414],
 ['-', 1196.5, 1438], ['+', 1285.6, 1438], ['+', 1363.3, 1438],
 ['-', 1196.5, 1459], ['-', 1285.6, 1459], ['+', 1363.3, 1459]].forEach(([s, x, y]) => txt(x, y, s, 21));

// Panel D
txt(10, 1472.7, 'D', 24);
txt(83, 1470, 'VHL<sup style="font-style:normal">flx/flx</sup>', 27, { left: true, italic: true });
txt(246, 1503, CRE_IN, 28);
txt(462, 1503, CRE_ACT, 28);
occupancy({ L: 159.4, R: 337, T: 1531.3, B: 1788.3, max: 90, step: 10, labels: true, tickTop: 13, shift: -2 }, dInBlue, dInOrange, dInGray, dInYellow);
occupancy({ L: 375.6, R: 553.6, T: 1531.3, B: 1788.3, max: 90, step: 11.25, tickTop: 13, shift: 0 }, dActBlue, dActOrange, dActGray, dActYellow);
txt(95, 1661.7, '% layer occupancy', 25.5, { font: SANS, rot: -90, color: '#333' });
txt(249, 1846.7, 'Time (min)', 18.5, { font: SANS, color: '#333' });
txt(469, 1846.7, 'Time (min)', 18.5, { font: SANS, color: '#333' });
layerColumn(571, 645.6, [1531, 1585, 1617.7, 1702.3, 1790], [1560, 1602, 1662, 1747.7], ['#3f74a8', '#d0702c', '#8f8f8f', '#c79a10']);
txt(612, 1715, '#', 16, { color: '#333' });
arrows(681, [1565.7, 1630, 1695, 1757]);
efficiency({ X0: 718.3, X1: 797, T: 1531, B: 1789.3, C0: 1570.3, gap: 64.4 }, effDInLight, effDInLightLo, effDInLightHi, effDInDark, effDInDarkLo, effDInDarkHi);
efficiency({ X0: 874.9, X1: 953, T: 1531, B: 1789.3, C0: 1570.3, gap: 64.4 }, effDActLight, effDActLightLo, effDActLightHi, effDActDark, effDActDarkLo, effDActDarkHi);
txt(890, 1755.7, '#', 17, { color: '#333' });
txt(755, 1503, CRE_IN, 27);
txt(914, 1503, CRE_ACT, 27);
txt(842.4, 1846.7, 'Efficiency: frequency X average speed (µm.s<sup>-1</sup>)', 18.3, { font: SANS, color: '#333' });
speed({ L: 1136, R: 1357, T: 1530, B: 1797, catPad: 6 }, speedDIn, speedDInLo, speedDInHi, speedDAct, speedDActLo, speedDActHi);
txt(1232, 1501.7, 'average speed', 32);
txt(1073.4, 1665.7, 'speed (nm.s<sup>-1</sup>)', 20.5, { font: SANS, rot: -90, color: '#333' });
txt(1336, 1782.7, '#', 17, { color: '#333' });
[[1116.5, 1140, '#5b5b5b', CRE_IN], [1252, 1272, '#adadad', CRE_ACT]].forEach(([sq, tx, c, label]) => {
  const b = document.createElement('div');
  b.className = 'box';
  b.style.cssText = 'left:' + sq + 'px;top:1847px;width:16px;height:17px;background:' + c;
  page.appendChild(b);
  txt(tx, 1855, label, 26, { left: true });
});
txt(1071.7, 1895.7, '# - insignificant n value to analyse', 20, { left: true });
</script>
</body>
</html>
